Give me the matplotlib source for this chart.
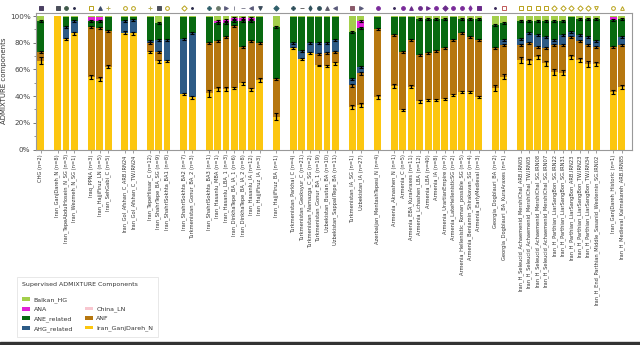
import matplotlib
matplotlib.use("Agg")
import matplotlib.pyplot as plt
from matplotlib.patches import Patch, Rectangle
from matplotlib.ticker import MultipleLocator, PercentFormatter
import numpy as np

labels = [
    "CHG (n=2)",
    "Iran_GanjDareh_N (n=8)", "Iran_TepeAbdulHosein_N_SG (n=3)", "Iran_Wezmeh_N_SG (n=1)",
    "Iraq_PPNA (n=3)", "Iran_HajjiFiruz_LN (n=5)", "Iran_SehGabi_C (n=5)",
    "Iran_Gol_Afshan_C_ARB.IRN24", "Iran_Gol_Afshan_C_TW.IRN24",
    "Iran_TepeHissar_C (n=12)", "Iran_ShahrTepe_BA_SG (n=9)", "Iran_ShahrISokhta_BA1 (n=8)",
    "Iran_ShahrISokhta_BA2 (n=7)", "Turkmenistan_Gonur_BA_2 (n=3)",
    "Iran_ShahrISokhta_BA3 (n=1)", "Iran_Hasanlu_MBA (n=1)", "Iran_Hasanlu_LBA_1 (n=3)",
    "Iran_DinkhaTepe_BA_IA_1 (n=6)", "Iran_DinkhaTepe_BA_IA_2 (n=8)", "Iran_Hasanlu_IA (n=12)",
    "Iran_HajjiFiruz_IA (n=3)",
    "Iran_HajjiFiruz_BA (n=1)",
    "Turkmenistan_Parkhai_C (n=4)", "Turkmenistan_Geoksyur_C (n=21)", "Turkmenistan_Namazga_C_SG (n=2)",
    "Turkmenistan_Gonur_BA_1 (n=19)", "Uzbekistan_Bustan_BA (n=10)", "Uzbekistan_SappaliTepe_BA (n=11)",
    "Turkmenistan_IA_SG (n=1)", "Uzbekistan_IA (n=27)",
    "Azerbaijan_MentashTepesi_N (n=4)",
    "Armenia_Aknashen_N (n=1)", "Armenia_C (n=5)", "Armenia_EBA_KuraAraxes (n=11)",
    "Armenia_Lchashen_LBA (n=12)", "Armenia_LBA (n=40)", "Armenia_IA (n=8)",
    "Armenia_UrartianEmpire (n=7)", "Armenia_LateHellenisticSG (n=2)",
    "Armenia_Hellenistic_Roman_possible_SG (n=5)", "Armenia_Beniamin_Shirakavan_SG (n=4)",
    "Armenia_EarlyMedieval (n=3)",
    "Georgia_Dogblauri_BA (n=2)", "Georgia_Dogblauri_BA_KuraAraxes (n=1)",
    "Iran_H_Seleucid_Achaemenid_MershiChal_ARB.IRN05", "Iran_H_Seleucid_Achaemenid_MershiChal_TW.IRN05",
    "Iran_H_Seleucid_Achaemenid_MershiChal_SG.IRN08", "Iran_H_Seleucid_Achaemenid_MershiChal_SG.IRN07",
    "Iran_H_Parthian_LiarSangBon_SG.IRN22", "Iran_H_Parthian_LiarSangBon_SG.IRN31",
    "Iran_H_Parthian_LiarSangBon_ARB.IRN23", "Iran_H_Parthian_LiarSangBon_TW.IRN23",
    "Iran_H_Parthian_LiarSangBon_TW.IRN34", "Iran_H_End_Parthian_Middle_Sasanid_Westernin_SG.IRN02",
    "Iran_GanjDareh_Historic (n=1)", "Iran_H_Medieval_Kalmakareh_ARB.IRN85",
]
group_sizes = [1, 3, 3, 2, 3, 2, 7, 1, 6, 2, 1, 11, 2, 10, 2]

# components, bottom to top (percent)
iran_ganj = [66.5, 100, 83, 87, 54, 52.5, 62, 87.5, 87, 73, 66, 66.5, 41.5, 39,
             42, 45, 45, 46, 49.5, 45, 52, 24.5,
             76, 68, 72, 63, 62.5, 64.5, 32, 33, 39.5,
             47.5, 29.5, 47, 36, 37, 37, 38, 41, 43, 43, 39.5,
             46, 54.5, 67, 66, 69, 64.5, 58, 57.5, 69, 67, 64, 64, 43, 46.5]
anf = [6.5, 0, 0, 0, 38, 38.5, 27, 0, 0, 7, 7, 0, 0, 0,
       38, 36.5, 39.5, 46.5, 27.5, 36, 27.5, 28.5,
       0, 0, 0, 8.5, 9.5, 8.5, 16, 24, 50.5,
       38.5, 43.5, 35, 35, 35, 37, 38, 41, 44, 41, 42.5,
       30, 23.5, 11, 13.5, 8, 11.5, 20, 20.5, 15.5, 14, 14, 13, 34, 31.5]
ahg = [0, 0, 9, 9, 0, 0, 0, 9, 10, 1, 9, 15.5, 41.5, 48,
       0, 0, 0, 0, 0, 0, 0, 0,
       4, 6, 8, 8, 7.5, 9, 5, 5, 0,
       0, 0, 0, 0, 0, 0, 0, 0, 0, 0, 0,
       0, 4, 5, 7.5, 9, 8.5, 4, 8, 3.5, 5, 6.5, 4.5, 0, 6.5]
ane = [23, 0, 7, 3, 4, 5, 10, 3, 2.5, 18.5, 13, 17.5, 16.5, 12.5,
       19.5, 13, 10.5, 4, 19.5, 15.5, 20, 39,
       19.5, 25.5, 19.5, 20, 20, 17.5, 35, 29, 9.5,
       13.5, 26.5, 17.5, 27, 26, 24, 22, 17.5, 11, 14, 16,
       17, 12.5, 13, 9, 10, 11.5, 14, 10, 11.5, 12, 13.5, 16.5, 20, 13.5]
china = [0] * 56
ana = [0, 0, 0, 0, 3, 3, 0.5, 0, 0, 0, 0, 0, 0, 0,
       0, 2, 2, 2, 2, 2, 0, 0,
       0, 0, 0, 0, 0, 0, 0, 5, 0,
       0, 0, 0, 0, 0, 0, 0, 0, 0, 0, 0,
       0, 0, 0, 0, 0, 0, 0, 0, 0, 0, 0, 0, 2.5, 0]
balkan = [4, 0, 1, 1, 1, 1, 0.5, 0.5, 0.5, 0.5, 5, 0.5, 0.5, 0.5,
          0.5, 3.5, 3, 1.5, 1.5, 1.5, 0.5, 8,
          0.5, 0.5, 0.5, 0.5, 0.5, 0.5, 12, 4, 0.5,
          0.5, 0.5, 0.5, 2, 2, 2, 2, 0.5, 2, 2, 2,
          7, 5.5, 4, 4, 4, 4, 4, 4, 0.5, 2, 2, 2, 0.5, 2]

# standard errors at the top of the Iran_GanjDareh_N block
err_ganj = [2.5, 0, 0.8, 1, 1.5, 1.5, 1, 1, 1, 1, 1, 0.8, 0.8, 0.8,
            2.5, 1.5, 1.5, 1, 1, 1, 1.5, 2.5,
            0.8, 0.8, 0.8, 0.5, 0.5, 0.8, 1.5, 1.5, 1.5,
            1.5, 1, 1, 0.8, 0.8, 0.8, 0.8, 0.8, 0.8, 0.8, 0.8,
            2, 2, 2, 2, 1.5, 2, 2, 2, 1.5, 1.5, 2, 1.5, 1.5, 1.5]
err_other = 0.8

components = [
    ("Iran_GanjDareh_N", iran_ganj, "#fcc60f"),
    ("ANF", anf, "#b6770f"),
    ("AHG_related", ahg, "#2d5b86"),
    ("ANE_related", ane, "#086a10"),
    ("China_LN", china, "#f8c6cf"),
    ("ANA", ana, "#e021d6"),
    ("Balkan_HG", balkan, "#a3cf4b"),
]

# population symbols shown above the bars
markers = ["s",
           "s", "o", ".",
           "s", "^", "+",
           "o", "o",
           "+", "s", "o",
           "D", ".",
           "P", "o", ">", "|", "_", "<", "v",
           "D",
           "P", "_", "d", "o", "^", "<",
           "s", ">",
           "o",
           ".", "o", "^", "o", ">", "o", "D", "o", "o", "d", "s",
           ".", "s",
           "s", "s", "s", "s", "D", "D", "D", "D", "D", "v",
           "o", "^"]
marker_colors = ["#4b3f62",
                 "#4b4f5a", "#3f5a4a", "#2b2b4a",
                 "#b8a21a", "#3a4a6a", "#b8b05a",
                 "#b8a21a", "#b8a21a",
                 "#b8b05a", "#4b4f5a", "#b8a21a",
                 "#b8a21a", "#2b2b4a",
                 "#2f5f6a", "#6a7a6a", "#5a5a7a", "#8a8a9a", "#8a8a9a", "#5a5a7a", "#3a4a5a",
                 "#2f5f6a",
                 "#2f4f5a", "#6a6a6a", "#2f4f5a", "#2f4f5a", "#5a5a6a", "#5a5a7a",
                 "#8a5a6a", "#5a5a7a",
                 "#7a2a9a",
                 "#3a2a5a", "#7a2a9a", "#6a2a8a", "#6a2a8a", "#6a2a8a", "#7a2a9a", "#6a2a8a",
                 "#7a2a9a", "#7a2a9a", "#7a2a9a", "#6a2a8a",
                 "#3a2a5a", "#c05a5a",
                 "#b8a21a", "#b8a21a", "#b8a21a", "#b8a21a", "#b8a21a", "#b8a21a", "#b8a21a",
                 "#b8a21a", "#b8a21a", "#b8a21a",
                 "#b8a21a", "#b8a21a"]
hollow = {"#b8a21a", "#c05a5a"}

# x positions with one empty slot between groups
x = []
pos = 0
for g in group_sizes:
    for _ in range(g):
        x.append(pos)
        pos += 1
    pos += 1
x = np.array(x)

fig = plt.figure(figsize=(6.4, 3.45), dpi=100)
ax = fig.add_axes([36 / 640, 1 - 149.5 / 345, 596 / 640, 136.5 / 345])

bottom = np.zeros(len(x))
tops = []
for name, vals, col in components:
    vals = np.array(vals, dtype=float)
    ax.bar(x, vals, bottom=bottom, width=0.82, color=col, linewidth=0, zorder=2)
    bottom = bottom + vals
    tops.append((name, vals, bottom.copy()))

# error bars at block tops
for name, vals, top in tops:
    if name == "Balkan_HG":
        continue
    mask = vals > 0
    if name == "Iran_GanjDareh_N":
        err = np.array(err_ganj)
        mask = mask & (top < 99.9) & (err > 0)
    else:
        err = np.full(len(x), err_other)
        mask = mask & (top < 99.0)
    ax.errorbar(x[mask], top[mask], yerr=err[mask], fmt="none", ecolor="black",
                elinewidth=0.9, capsize=1.6, capthick=0.8, zorder=3)

for xi, m, c in zip(x, markers, marker_colors):
    if c in hollow:
        ax.plot(xi, 106.2, marker=m, ms=2.7, mfc="none", mec=c, mew=0.7,
                clip_on=False, zorder=4)
    else:
        ax.plot(xi, 106.2, marker=m, ms=2.7, color=c, mec=c, mew=0.7,
                clip_on=False, zorder=4)

ax.set_xlim(-0.56, x[-1] + 1.22)
ax.set_ylim(0, 102.3)
ax.set_xticks(x)
ax.set_xticklabels(labels, rotation=90, fontsize=3.7)
ax.yaxis.set_major_locator(MultipleLocator(20))
ax.yaxis.set_minor_locator(MultipleLocator(10))
ax.yaxis.set_major_formatter(PercentFormatter(decimals=0))
ax.tick_params(axis="y", labelsize=5.2, length=2.5, width=0.5, pad=1.5, colors="#444444")
ax.tick_params(axis="y", which="minor", length=1.5, width=0.4, colors="#444444")
ax.tick_params(axis="x", length=2, width=0.4, pad=1.5, colors="#555555")
for lab in ax.get_xticklabels():
    lab.set_color("#333333")
ax.set_ylabel("ADMIXTURE components", fontsize=5, color="#333333", labelpad=2)
for s in ax.spines.values():
    s.set_color("#999999")
    s.set_linewidth(0.8)

col = {name: c for name, _, c in components}
order = ["Balkan_HG", "ANA", "ANE_related", "AHG_related", None, "China_LN", "ANF", "Iran_GanjDareh_N"]
handles, names = [], []
for n in order:
    if n is None:
        handles.append(Patch(facecolor="none", edgecolor="none"))
        names.append("")
    else:
        handles.append(Patch(facecolor=col[n], edgecolor="none"))
        names.append(n)
leg = fig.legend(handles, names, ncol=2, loc="lower left", bbox_to_anchor=(17 / 640, 8 / 345),
                 title="Supervised ADMIXTURE Components", title_fontsize=4.5, fontsize=4.5,
                 alignment="left", frameon=True, fancybox=False, edgecolor="#dddddd",
                 handlelength=1.3, handleheight=0.45, handletextpad=0.6,
                 labelspacing=0.68, columnspacing=1.8, borderpad=0.8,
                 borderaxespad=0)
leg._legend_box.sep = 7  # wider gap under the title
leg.get_frame().set_linewidth(0.6)
for t in leg.get_texts():
    t.set_color("#333333")
leg.get_title().set_color("#333333")

fig.add_artist(Rectangle((0, 0), 1, 3 / 345, transform=fig.transFigure, color="#333333", zorder=10))

fig.savefig("out.png", dpi=100)
